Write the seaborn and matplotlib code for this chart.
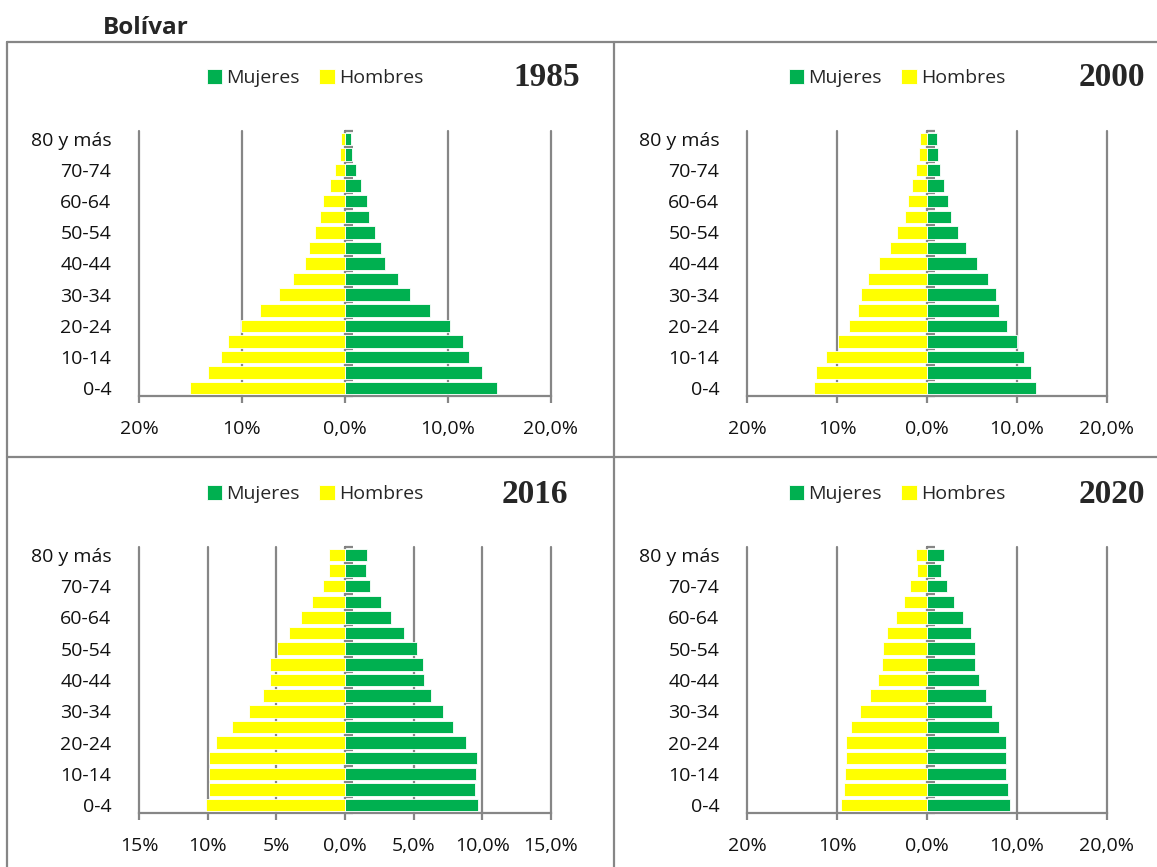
import numpy as np
import pandas as pd
import seaborn as sns
import matplotlib.pyplot as plt
from matplotlib.lines import Line2D

# Age groups, bottom to top
EDADES = ['0-4', '5-9', '10-14', '15-19', '20-24', '25-29', '30-34', '35-39',
          '40-44', '45-49', '50-54', '55-59', '60-64', '65-69', '70-74', '75-79', '80 y más']

# Percent of population by age group (0-4 first)
MUJERES_1985 = [14.76, 13.27, 12.0, 11.49, 10.19, 8.25, 6.34, 5.11, 3.92, 3.53, 2.94, 2.36, 2.14, 1.59, 1.07, 0.71, 0.55]
HOMBRES_1985 = [15.05, 13.33, 12.0, 11.36, 10.13, 8.22, 6.44, 5.08, 3.85, 3.46, 2.88, 2.39, 2.10, 1.46, 0.94, 0.52, 0.39]

MUJERES_2000 = [12.13, 11.58, 10.81, 10.04, 8.93, 8.05, 7.68, 6.80, 5.59, 4.30, 3.49, 2.65, 2.35, 1.91, 1.43, 1.18, 1.10]
HOMBRES_2000 = [12.57, 12.28, 11.21, 9.93, 8.64, 7.68, 7.32, 6.54, 5.29, 4.15, 3.31, 2.50, 2.13, 1.62, 1.21, 0.88, 0.74]

MUJERES_2016 = [9.66, 9.49, 9.56, 9.59, 8.83, 7.89, 7.14, 6.29, 5.73, 5.70, 5.24, 4.32, 3.33, 2.62, 1.84, 1.50, 1.63]
HOMBRES_2016 = [10.10, 9.90, 9.90, 9.90, 9.39, 8.20, 6.99, 5.97, 5.49, 5.49, 4.98, 4.08, 3.18, 2.40, 1.58, 1.19, 1.19]

MUJERES_2020 = [9.26, 8.97, 8.82, 8.79, 8.75, 8.05, 7.17, 6.54, 5.81, 5.33, 5.29, 4.85, 3.97, 2.98, 2.24, 1.58, 1.84]
HOMBRES_2020 = [9.60, 9.26, 9.12, 9.01, 8.97, 8.49, 7.39, 6.29, 5.44, 5.00, 4.93, 4.41, 3.49, 2.61, 1.84, 1.10, 1.21]

TICKS_20 = [-20, -10, 0, 10, 20]
LABELS_20 = ['20%', '10%', '0,0%', '10,0%', '20,0%']
TICKS_15 = [-15, -10, -5, 0, 5, 10, 15]
LABELS_15 = ['15%', '10%', '5%', '0,0%', '5,0%', '10,0%', '15,0%']

VERDE = '#00B050'
AMARILLO = '#FFFF00'
GRIS = '#868686'
TXT = 14

W, H = 1157, 867

sns.set_theme(style='white')
plt.rcParams['font.family'] = ['Open Sans', 'DejaVu Sans']

fig = plt.figure(figsize=(W / 100, H / 100), dpi=100)


def px_box(x0, y0, x1, y1):
    return [x0 / W, 1 - y1 / H, (x1 - x0) / W, (y1 - y0) / H]


paneles = [
    ('1985', MUJERES_1985, HOMBRES_1985, TICKS_20, LABELS_20, px_box(139, 131, 551, 396), (315, 78), 580),
    ('2000', MUJERES_2000, HOMBRES_2000, TICKS_20, LABELS_20, px_box(747, 131, 1107, 396), (897, 78), 1145),
    ('2016', MUJERES_2016, HOMBRES_2016, TICKS_15, LABELS_15, px_box(139, 547, 551, 813), (315, 494), 568),
    ('2020', MUJERES_2020, HOMBRES_2020, TICKS_20, LABELS_20, px_box(747, 547, 1107, 813), (897, 494), 1145),
]

orden = EDADES[::-1]
etiquetas_y = [e if i % 2 == 0 else '' for i, e in enumerate(orden)]

for anio, muj, hom, ticks, tlabels, box, legpos, year_x in paneles:
    df = pd.DataFrame({
        'edad': EDADES * 2,
        'sexo': ['Mujeres'] * len(EDADES) + ['Hombres'] * len(EDADES),
        'valor': list(muj) + [-v for v in hom],
    })
    ax = fig.add_axes(box)
    sns.barplot(data=df, x='valor', y='edad', hue='sexo', order=orden,
                hue_order=['Mujeres', 'Hombres'], palette=[VERDE, AMARILLO],
                saturation=1, dodge=False, width=0.8, orient='h',
                edgecolor='white', linewidth=0.6, ax=ax, zorder=3)
    lim = ticks[-1]
    ax.set_xlim(-lim, lim)
    ax.set_xticks(ticks)
    ax.set_xticklabels(tlabels)
    ax.set_yticks(range(len(orden)))
    ax.set_yticklabels(etiquetas_y)
    ax.set_xlabel('')
    ax.set_ylabel('')
    ax.grid(axis='x', color=GRIS, linewidth=1.6, zorder=0)
    ax.set_axisbelow(True)
    for gl in ax.get_xgridlines():
        gl.set_clip_on(False)
    for s in ['top', 'right', 'left']:
        ax.spines[s].set_visible(False)
    ax.spines['bottom'].set_color(GRIS)
    ax.spines['bottom'].set_linewidth(1.6)
    ax.tick_params(axis='x', bottom=True, length=5, width=1.6, color=GRIS,
                   direction='out', pad=12, labelsize=TXT, labelcolor='#111111')
    ax.tick_params(axis='y', left=False, pad=14, labelsize=TXT, labelcolor='#111111')

    # vertical axis at zero with category boundary ticks
    eje = ax.secondary_yaxis(0.5)
    eje.spines['left'].set_color(GRIS)
    eje.spines['left'].set_linewidth(1.6)
    eje.set_yticks(np.arange(-0.5, len(orden), 1.0))
    eje.set_yticklabels([])
    eje.tick_params(axis='y', length=6, width=1.6, color=GRIS, direction='out')

    handles, labels = ax.get_legend_handles_labels()
    ax.get_legend().remove()
    fig.legend(handles, labels, loc='center', ncol=2, frameon=False,
               bbox_to_anchor=(legpos[0] / W, 1 - legpos[1] / H),
               fontsize=TXT, handlelength=0.8, handleheight=0.8,
               handletextpad=0.2, columnspacing=1.0)
    fig.text(year_x / W, 1 - legpos[1] / H, anio, ha='right', va='center',
             fontsize=24, fontweight='bold', family='Liberation Serif')

fig.text(103 / W, 1 - 28 / H, 'Bolívar', ha='left', va='center',
         fontsize=17.5, fontweight='bold')

# panel borders
bordes = [((7, 1157), (42, 42)), ((7, 7), (42, 867)), ((614, 614), (42, 867)),
          ((7, 1157), (457, 457))]
for xs, ys in bordes:
    fig.add_artist(Line2D([x / W for x in xs], [1 - y / H for y in ys],
                          color=GRIS, linewidth=1.6, transform=fig.transFigure))

fig.savefig('out.png', dpi=100)
